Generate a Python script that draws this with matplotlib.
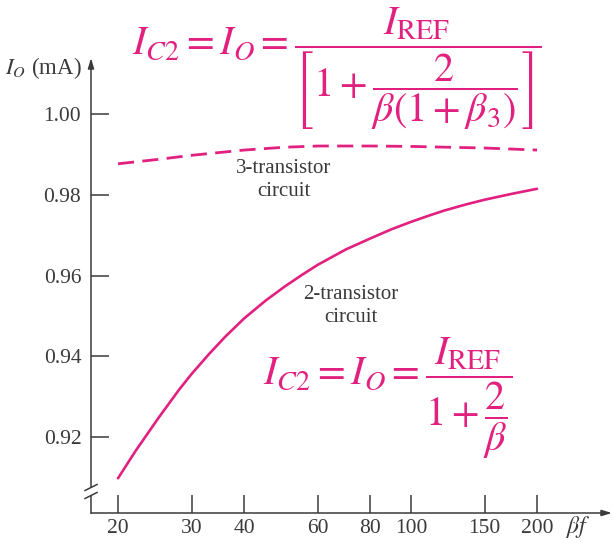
import matplotlib
matplotlib.use("Agg")
import matplotlib.pyplot as plt
from matplotlib.lines import Line2D

# Output current I_O (mA) versus beta for the two current-mirror circuits
beta_2t = [20, 22, 25, 28, 30, 33, 36, 40, 45, 50, 55, 60, 70, 80, 90, 100,
           110, 120, 135, 150, 175, 200]
io_2t = [0.9098, 0.9165, 0.9248, 0.9318, 0.9357, 0.9406, 0.9448, 0.9494, 0.9538,
         0.9573, 0.9602, 0.9627, 0.9665, 0.9692, 0.9715, 0.9733, 0.9748, 0.9761,
         0.9776, 0.9788, 0.9803, 0.9815]

beta_3t = [20, 25, 30, 40, 50, 60, 80, 100, 150, 200]
io_3t = [0.9877, 0.9888, 0.9898, 0.9911, 0.9918, 0.9921, 0.9921, 0.9920, 0.9916, 0.9911]

x_ticks = [20, 30, 40, 60, 80, 100, 150, 200]
y_ticks = [0.92, 0.94, 0.96, 0.98, 1.00]
y_tick_labels = ["0.92", "0.94", "0.96", "0.98", "1.00"]

MAGENTA = "#e2207f"
INK = "#3a3a3a"
W, H = 614, 543

plt.rcParams["mathtext.fontset"] = "stix"
plt.rcParams["font.family"] = ["Liberation Serif", "DejaVu Serif"]

fig = plt.figure(figsize=(W / 100, H / 100), dpi=100)


def fx(x):
    return x / W


def fy(y):
    return 1 - y / H


ax = fig.add_axes([fx(91), fy(513), fx(612) - fx(91), fy(58) - fy(513)])
ax.set_xscale("log")
ax.set_xlim(17.24, 302)
ax.set_ylim(0.9012, 1.0139)

ax.plot(beta_2t, io_2t, color=MAGENTA, lw=1.9, solid_capstyle="round")
ax.plot(beta_3t, io_3t, color=MAGENTA, lw=2.0, dashes=(5.8, 3.0))

for s in ax.spines.values():
    s.set_visible(False)

ax.set_xticks(x_ticks)
ax.set_xticklabels([str(v) for v in x_ticks])
ax.xaxis.set_minor_locator(matplotlib.ticker.NullLocator())
ax.set_yticks(y_ticks)
ax.set_yticklabels(y_tick_labels)
ax.tick_params(axis="both", direction="in", length=13, width=1.1, color=INK,
               labelsize=15.5, labelcolor=INK)
ax.tick_params(axis="x", pad=4)
ax.tick_params(axis="y", pad=7)

# Axis lines with arrowheads and the break mark on the vertical axis
tr = ax.transAxes
brk_lo, brk_hi = 1 - (496 - 58) / (513 - 58), 1 - (487 - 58) / (513 - 58)
ax.add_line(Line2D([0, 0], [0, brk_lo], transform=tr, color=INK, lw=1.1, clip_on=False))
ax.annotate("", xy=(0, 1.0), xytext=(0, brk_hi), xycoords=tr, textcoords=tr,
            arrowprops=dict(arrowstyle="-|>,head_length=0.6,head_width=0.18",
                            color=INK, lw=1.1, shrinkA=0, shrinkB=0))
ax.annotate("", xy=(1.0, 0), xytext=(0, 0), xycoords=tr, textcoords=tr,
            arrowprops=dict(arrowstyle="-|>,head_length=0.6,head_width=0.18",
                            color=INK, lw=1.1, shrinkA=0, shrinkB=0))
for yc in (487.5, 495.5):
    fig.add_artist(Line2D([fx(85), fx(97)], [fy(yc + 3), fy(yc - 3)],
                          color=INK, lw=1.1))

# Axis titles
fig.text(fx(5), fy(68), r"$I_O$ (mA)", fontsize=16.5, color=INK, ha="left", va="center")
fig.text(fx(566), fy(527), r"$\beta f$", fontsize=17, color=INK, ha="left", va="center")

# Curve labels
fig.text(fx(284), fy(180), "3-transistor\ncircuit", fontsize=15, color=INK,
         ha="center", va="center", linespacing=1.35)
fig.text(fx(351), fy(306), "2-transistor\ncircuit", fontsize=15, color=INK,
         ha="center", va="center", linespacing=1.35)

# Current expressions
fig.text(fx(132), fy(69),
         r"$I_{C2} = I_O = \dfrac{I_{\mathrm{REF}}}{\left[1+\dfrac{2}{\beta(1+\beta_3)}\right]}$",
         fontsize=29, color=MAGENTA, ha="left", va="center")
fig.text(fx(263), fy(398),
         r"$I_{C2} = I_O = \dfrac{I_{\mathrm{REF}}}{1+\dfrac{2}{\beta}}$",
         fontsize=29, color=MAGENTA, ha="left", va="center")

fig.savefig("out.png", dpi=100)
